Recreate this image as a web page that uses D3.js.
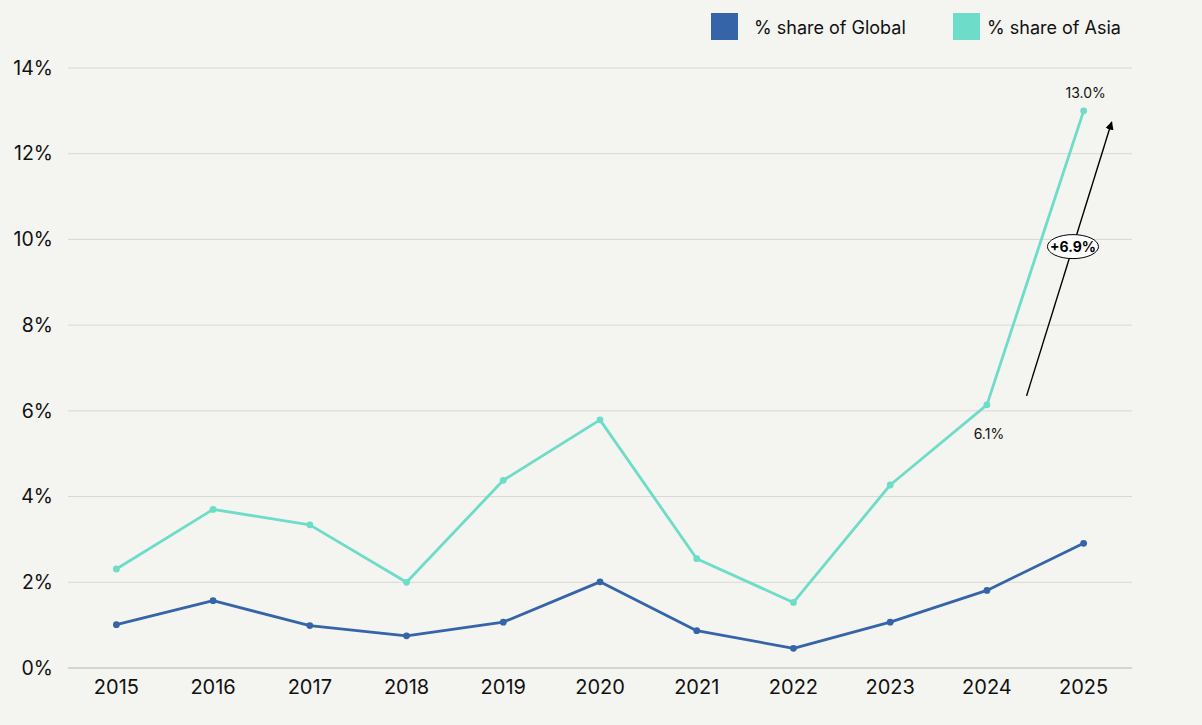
<!DOCTYPE html>
<html>
<head>
<meta charset="utf-8">
<script src="https://cdn.jsdelivr.net/npm/d3@7"></script>
<style>
  html, body { margin: 0; padding: 0; background: #f4f4f0; }
  svg { display: block; font-family: Inter, "Noto Sans", sans-serif; }
</style>
</head>
<body>
<svg id="chart" width="1202" height="725"></svg>
<script>
const years = ["2015","2016","2017","2018","2019","2020","2021","2022","2023","2024","2025"];
const globalShare = [1.01, 1.57, 0.99, 0.75, 1.07, 2.01, 0.87, 0.46, 1.07, 1.81, 2.91];
const asiaShare   = [2.31, 3.70, 3.34, 2.00, 4.38, 5.79, 2.55, 1.53, 4.27, 6.14, 13.0];
const yTicks = [0, 2, 4, 6, 8, 10, 12, 14];
const seriesNames = ["% share of Global", "% share of Asia"];
const seriesColors = ["#3565a8", "#6ddcc8"];
const changeLabel = "+6.9%";

const svg = d3.select("#chart");
const margin = { left: 68, right: 70, top: 68, bottom: 57 };
const W = 1202, H = 725;

const x = d3.scaleBand().domain(years).range([margin.left, W - margin.right]).paddingInner(0).paddingOuter(0);
const xc = d => x(d) + x.bandwidth() / 2;
const y = d3.scaleLinear().domain([0, 14]).range([H - margin.bottom, margin.top]);

// grid
svg.append("g").selectAll("line").data(yTicks.filter(t => t > 0)).join("line")
  .attr("x1", margin.left).attr("x2", W - margin.right)
  .attr("y1", d => y(d)).attr("y2", d => y(d))
  .attr("stroke", "#d8d8d4").attr("stroke-width", 1);

// x axis line
svg.append("line")
  .attr("x1", margin.left).attr("x2", W - margin.right)
  .attr("y1", y(0)).attr("y2", y(0))
  .attr("stroke", "#b5b5b2").attr("stroke-width", 1.2);

// y axis labels
const yAxis = d3.axisLeft(y).tickValues(yTicks).tickSize(0).tickPadding(0).tickFormat(d => d + "%");
const ya = svg.append("g").attr("transform", `translate(${margin.left - 15},0)`).call(yAxis);
ya.select(".domain").remove();
ya.selectAll("text").attr("font-size", 19.5).attr("fill", "#111").attr("font-family", "Inter, sans-serif");

// x axis labels
const xAxis = d3.axisBottom(x).tickSize(0).tickPadding(0);
const xa = svg.append("g").attr("transform", `translate(0,${y(0) + 12})`).call(xAxis);
xa.select(".domain").remove();
xa.selectAll("text").attr("font-size", 20).attr("fill", "#111").attr("font-family", "Inter, sans-serif");

// lines
const line = d3.line().x((d, i) => xc(years[i])).y(d => y(d));
[globalShare, asiaShare].forEach((vals, k) => {
  svg.append("path").datum(vals).attr("d", line)
    .attr("fill", "none").attr("stroke", seriesColors[k]).attr("stroke-width", 2.8)
    .attr("stroke-linejoin", "round");
  svg.append("g").selectAll("circle").data(vals).join("circle")
    .attr("cx", (d, i) => xc(years[i])).attr("cy", d => y(d)).attr("r", 3.4)
    .attr("fill", seriesColors[k]);
});

// value labels
const last = years.length - 1;
svg.append("text").attr("x", xc(years[last]) + 2).attr("y", y(asiaShare[last]) - 13)
  .attr("text-anchor", "middle").attr("font-size", 14).attr("fill", "#111").text(asiaShare[last].toFixed(1) + "%");
svg.append("text").attr("x", xc(years[last - 1]) + 2).attr("y", y(asiaShare[last - 1]) + 34)
  .attr("text-anchor", "middle").attr("font-size", 14).attr("fill", "#111").text(asiaShare[last - 1].toFixed(1) + "%");

// arrow annotation
const step = x.step();
const ax1 = xc(years[last - 1]) + 0.41 * step, ay1 = y(6.35);
const ax2 = xc(years[last]) + 0.29 * step, ay2 = y(12.74);
const defs = svg.append("defs");
defs.append("marker").attr("id", "arr").attr("viewBox", "0 0 10 10").attr("refX", 9).attr("refY", 5)
  .attr("markerWidth", 6).attr("markerHeight", 6).attr("orient", "auto")
  .append("path").attr("d", "M0,0 L10,5 L0,10 z").attr("fill", "#000");
svg.append("line").attr("x1", ax1).attr("y1", ay1).attr("x2", ax2).attr("y2", ay2)
  .attr("stroke", "#000").attr("stroke-width", 1.4).attr("marker-end", "url(#arr)");
const t = 0.545;
const ex = ax1 + (ax2 - ax1) * t, ey = ay1 + (ay2 - ay1) * t;
svg.append("ellipse").attr("cx", ex).attr("cy", ey).attr("rx", 25.5).attr("ry", 12)
  .attr("fill", "#fff").attr("stroke", "#000").attr("stroke-width", 1);
svg.append("text").attr("x", ex).attr("y", ey + 5).attr("text-anchor", "middle")
  .attr("font-size", 14).attr("font-weight", 700).attr("fill", "#000").text(changeLabel);

// legend
const legendX = [711, 953];
seriesNames.forEach((name, k) => {
  const g = svg.append("g").attr("transform", `translate(${legendX[k]},13)`);
  g.append("rect").attr("width", 27).attr("height", 27).attr("fill", seriesColors[k]);
  g.append("text").attr("x", 43 - (k ? 9 : 0)).attr("y", 21).attr("font-size", 18).attr("fill", "#111").text(name);
});
</script>
</body>
</html>
